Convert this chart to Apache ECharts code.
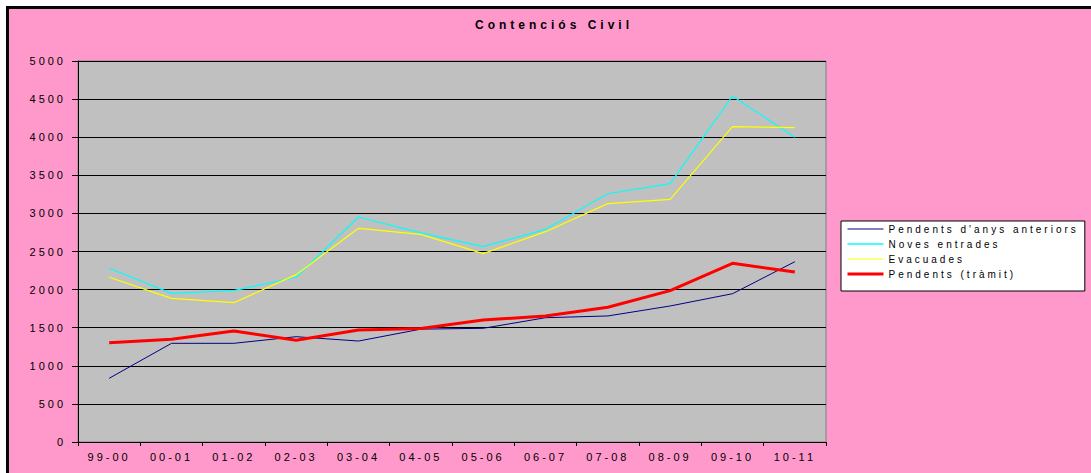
<!DOCTYPE html>
<html>
<head>
<meta charset="utf-8">
<title>Contenciós Civil</title>
<script src="https://cdn.jsdelivr.net/npm/echarts@6/dist/echarts.min.js"></script>
<style>
  html, body { margin: 0; padding: 0; background: #fff; overflow: hidden; width: 1091px; height: 473px; }
  #chart {
    position: absolute; left: 6px; top: 6px;
    width: 1090px; height: 470px;
    border: 3px solid #000;
    background: #ff99cc;
  }
  /* the original texts are drawn wide-spaced */
  #chart svg text { letter-spacing: 3px; }
  #chart svg text[style*="bold"] { letter-spacing: 4px; }
</style>
</head>
<body>
<div id="chart"></div>
<script>
var categories = ['99-00', '00-01', '01-02', '02-03', '03-04', '04-05', '05-06', '06-07', '07-08', '08-09', '09-10', '10-11']
var pendentsAnteriors = [836, 1295, 1295, 1382, 1325, 1481, 1492, 1631, 1654, 1785, 1946, 2366]
var novesEntrades = [2280, 1951, 1986, 2162, 2953, 2745, 2563, 2791, 3258, 3390, 4541, 3999]
var evacuades = [2162, 1885, 1828, 2196, 2804, 2725, 2472, 2760, 3128, 3185, 4138, 4125]
var pendentsTramit = [1303, 1348, 1457, 1334, 1470, 1490, 1601, 1654, 1768, 1986, 2345, 2231]
var yTicks = { min: 0, max: 5000, interval: 500 }

var font = 'Liberation Sans, Arial, sans-serif'

var chart = echarts.init(document.getElementById('chart'), null, { renderer: 'svg' })

var option = {
  backgroundColor: 'transparent',
  animation: false,
  textStyle: { fontFamily: font },
  title: {
    text: 'Contenciós Civil',
    left: 'center',
    top: 10,
    padding: 0,
    textStyle: { fontSize: 12, fontWeight: 'bold', color: '#000', fontFamily: font }
  },
  legend: {
    orient: 'vertical',
    left: 832,
    top: 212,
    padding: [3, 81, 12, 5],
    itemWidth: 36,
    itemHeight: 10,
    itemGap: 5,
    backgroundColor: '#fff',
    borderColor: '#000',
    borderWidth: 1,
    borderRadius: 0,
    // line only, no marker in the key
    itemStyle: { opacity: 0 },
    textStyle: { fontSize: 10, color: '#000', fontFamily: font },
    data: [
      { name: 'Pendents d\'anys anteriors', lineStyle: { width: 1 } },
      { name: 'Noves entrades', lineStyle: { width: 1.5 } },
      { name: 'Evacuades', lineStyle: { width: 1 } },
      { name: 'Pendents (tràmit)', lineStyle: { width: 3 } }
    ]
  },
  grid: {
    left: 69,
    top: 52,
    width: 748,
    height: 381,
    show: true,
    backgroundColor: '#c0c0c0',
    borderColor: '#808080',
    borderWidth: 1
  },
  xAxis: {
    type: 'category',
    data: categories,
    boundaryGap: true,
    axisLine: { lineStyle: { color: '#000', width: 1 } },
    axisTick: { show: true, length: 4, lineStyle: { color: '#000' } },
    axisLabel: { fontSize: 11, color: '#000', margin: 9, interval: 0, fontFamily: font }
  },
  yAxis: {
    type: 'value',
    min: yTicks.min,
    max: yTicks.max,
    interval: yTicks.interval,
    axisLine: { show: true, lineStyle: { color: '#000', width: 1 } },
    axisTick: { show: true, length: 6, lineStyle: { color: '#000' } },
    axisLabel: {
      fontSize: 11, color: '#000', margin: 12, fontFamily: font,
      formatter: function (v) { return String(v) }
    },
    splitLine: { show: true, lineStyle: { color: '#000', width: 1 } }
  },
  series: [
    {
      name: 'Pendents d\'anys anteriors',
      type: 'line',
      data: pendentsAnteriors,
      symbol: 'none',
      lineStyle: { color: '#000080', width: 1 },
      itemStyle: { color: '#000080' }
    },
    {
      name: 'Noves entrades',
      type: 'line',
      data: novesEntrades,
      symbol: 'none',
      lineStyle: { color: '#00ffff', width: 1.2 },
      itemStyle: { color: '#00ffff' }
    },
    {
      name: 'Evacuades',
      type: 'line',
      data: evacuades,
      symbol: 'none',
      lineStyle: { color: '#ffff00', width: 1.2 },
      itemStyle: { color: '#ffff00' }
    },
    {
      name: 'Pendents (tràmit)',
      type: 'line',
      data: pendentsTramit,
      symbol: 'none',
      lineStyle: { color: '#ff0000', width: 3 },
      itemStyle: { color: '#ff0000' }
    }
  ]
}

chart.setOption(option)
</script>
</body>
</html>
